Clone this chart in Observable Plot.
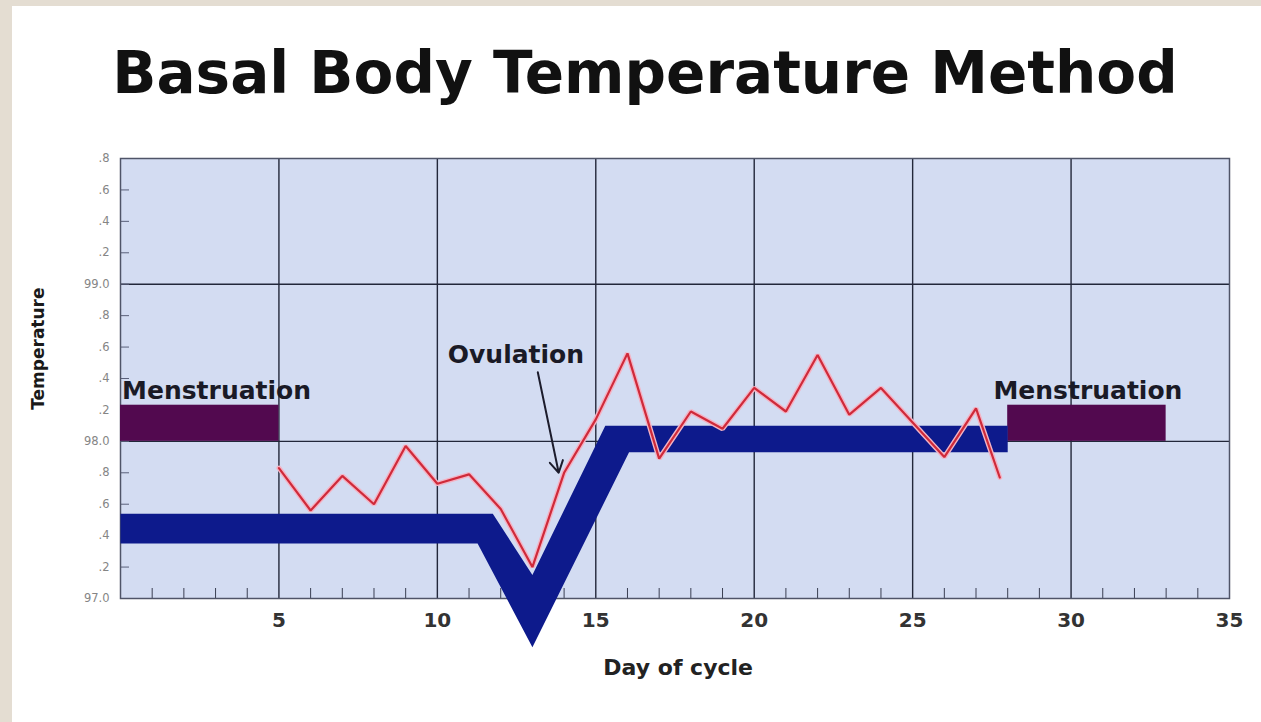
<!DOCTYPE html>
<html><head><meta charset="utf-8">
<script src="https://cdn.jsdelivr.net/npm/d3@7"></script>
<script src="https://cdn.jsdelivr.net/npm/@observablehq/plot@0.6"></script>
<style>
html,body{margin:0;padding:0;background:#e4ddd2;width:1261px;height:722px;overflow:hidden;}
#panel{position:absolute;left:12px;top:6px;right:0;bottom:0;background:#fff;}
#title{position:absolute;top:44px;left:645px;transform:translateX(-50%);white-space:nowrap;font-family:"DejaVu Sans",sans-serif;font-weight:bold;font-size:58px;line-height:1;color:#111;}
#chart{position:absolute;left:0;top:140px;}
</style></head>
<body><div id="panel"></div><div id="title">Basal Body Temperature Method</div><div id="chart"></div>
<script>
// Daily basal temperature readings (°F)
const tempDays = [5, 6, 7, 8, 9, 10, 11, 12, 13, 14, 15, 16, 17, 18, 19, 20, 21, 22, 23, 24, 25, 26, 27, 27.75];
const tempValues = [97.83, 97.56, 97.78, 97.60, 97.97, 97.73, 97.79, 97.57, 97.20, 97.80, 98.14, 98.56, 97.89, 98.19, 98.08, 98.34, 98.19, 98.55, 98.17, 98.34, 98.12, 97.90, 98.21, 97.77];

// Typical BBT pattern band (outline vertices, day / temperature)
const bandDays = [0, 11.75, 13.0, 15.3, 28, 28, 16.05, 13.0, 11.27, 0];
const bandTemps = [97.54, 97.54, 97.15, 98.10, 98.10, 97.93, 97.93, 96.69, 97.35, 97.35];

// Menstruation periods
const mensStart = [0, 28];
const mensEnd = [5, 33];
const mensLow = [98.0, 98.0];
const mensHigh = [98.23, 98.23];

// Annotations
const labelText = ["Menstruation", "Menstruation", "Ovulation"];
const labelDay = [0.05, 27.55, 10.33];
const labelTemp = [98.27, 98.27, 98.50];
const arrowFrom = [13.17, 98.44];
const arrowTo = [13.83, 97.80];

// Axes
const yTicks = [97.0, 97.2, 97.4, 97.6, 97.8, 98.0, 98.2, 98.4, 98.6, 98.8, 99.0, 99.2, 99.4, 99.6, 99.8];
const xMinorTicks = [1,2,3,4,6,7,8,9,11,12,13,14,16,17,18,19,21,22,23,24,26,27,28,29,31,32,33,34];
const xMajorTicks = [5, 10, 15, 20, 25, 30, 35];
const xGrid = [5, 10, 15, 20, 25, 30];
const yGrid = [98, 99];

const tempRows = tempDays.map((d, i) => ({day: d, temp: tempValues[i]}));
const bandRows = bandDays.map((d, i) => ({day: d, temp: bandTemps[i]}));
const mensRows = mensStart.map((s, i) => ({x1: s, x2: mensEnd[i], y1: mensLow[i], y2: mensHigh[i]}));
const labelRows = labelText.map((t, i) => ({text: t, day: labelDay[i], temp: labelTemp[i]}));

const fmt = d => Math.abs(d - Math.round(d)) < 1e-6 ? d.toFixed(1) : "." + Math.round((d - Math.floor(d)) * 10);

const chart = Plot.plot({
  width: 1261,
  height: 560,
  marginLeft: 120,
  marginRight: 32,
  marginTop: 18,
  marginBottom: 102,
  style: {background: "transparent", fontFamily: "DejaVu Sans, sans-serif", overflow: "visible"},
  x: {domain: [0, 35], axis: null},
  y: {domain: [97, 99.8], axis: null},
  marks: [
    Plot.frame({fill: "#d3dcf2", stroke: null}),
    Plot.gridX(xGrid, {stroke: "#22273a", strokeOpacity: 1, strokeWidth: 1.4}),
    Plot.gridY(yGrid, {stroke: "#22273a", strokeOpacity: 1, strokeWidth: 1.4}),
    Plot.axisY(yTicks, {anchor: "left", tickSize: -9, tickPadding: 20, tickFormat: fmt, fontSize: 11.5, fill: "#858585", stroke: "#5a607a", label: null}),
    Plot.axisX(xMinorTicks, {anchor: "bottom", tickSize: -10, tickFormat: () => "", stroke: "#3a3f52", label: null}),
    Plot.frame({stroke: "#4f5468", strokeWidth: 1.5}),
    Plot.axisX(xMajorTicks, {anchor: "bottom", tickSize: 0, tickPadding: 14, fontSize: 20, fontWeight: "bold", fill: "#333", label: null}),
    Plot.rect(mensRows, {x1: "x1", x2: "x2", y1: "y1", y2: "y2", fill: "#52094f"}),
    Plot.line(bandRows, {x: "day", y: "temp", fill: "#0d1a8c", stroke: "none"}),
    Plot.line(tempRows, {x: "day", y: "temp", stroke: "#f4b3c4", strokeWidth: 5, curve: "linear", strokeLinejoin: "miter"}),
    Plot.line(tempRows, {x: "day", y: "temp", stroke: "#cf2a3a", strokeWidth: 2.2, curve: "linear", strokeLinejoin: "miter"}),
    Plot.arrow([0], {x1: () => arrowFrom[0], y1: () => arrowFrom[1], x2: () => arrowTo[0], y2: () => arrowTo[1], stroke: "#1c1c2c", strokeWidth: 2, headLength: 10}),
    Plot.text(labelRows, {x: "day", y: "temp", text: "text", textAnchor: "start", lineAnchor: "bottom", fontSize: 25, fontWeight: "bold", fill: "#1a1a26"}),
    Plot.text(["Temperature"], {frameAnchor: "left", y: () => 98.59, dx: -82, rotate: -90, textAnchor: "middle", fontSize: 17, fontWeight: "bold", fill: "#1a1a1a"}),
    Plot.text(["Day of cycle"], {frameAnchor: "bottom", x: () => 17.6, dy: 76, textAnchor: "middle", fontSize: 22, fontWeight: "bold", fill: "#222"})
  ]
});
document.getElementById("chart").appendChild(chart);
</script>
</body></html>
